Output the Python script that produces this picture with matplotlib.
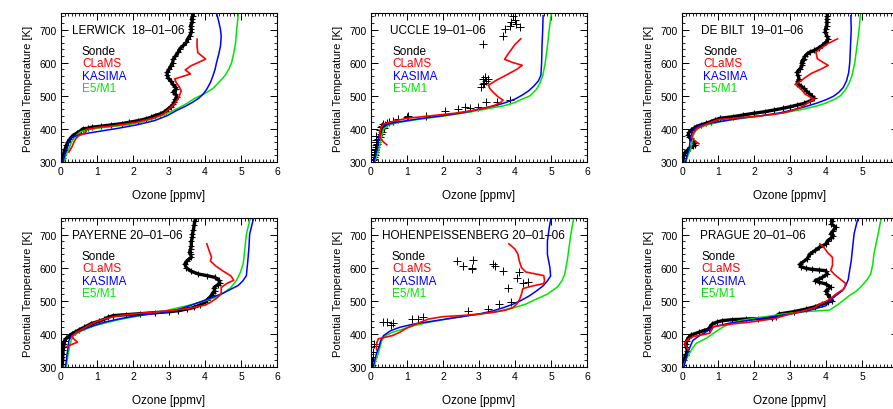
import matplotlib
matplotlib.use("Agg")
import matplotlib.pyplot as plt
from matplotlib.ticker import MultipleLocator

plt.rcParams['font.family'] = ['Liberation Sans', 'DejaVu Sans']

# ---------------- data ----------------
stations = ["LERWICK  18–01–06", "UCCLE 19–01–06", "DE BILT  19–01–06",
            "PAYERNE 20–01–06", "HOHENPEISSENBERG 20–01–06", "PRAGUE 20–01–06"]
legend_names = ["Sonde", "CLaMS", "KASIMA", "E5/M1"]
x_ticks = [0, 1, 2, 3, 4, 5, 6]
y_ticks = [300, 400, 500, 600, 700]

# LERWICK
lerwick_sonde_theta = [300, 312, 320, 335, 350, 360, 370, 380, 388, 395, 400, 402, 405, 408, 412, 416, 420, 425, 430, 435,
                       440, 445, 450, 455, 460, 467, 475, 482, 490, 497, 505, 512, 520, 527, 535, 545, 553, 562, 571, 580,
                       590, 600, 611, 620, 631, 642, 652, 661, 672, 682, 692, 702, 712, 722, 732, 742, 750]
lerwick_sonde_o3 = [0.04, 0.05, 0.06, 0.1, 0.15, 0.19, 0.25, 0.33, 0.45, 0.55, 0.6, 0.75, 0.85, 1.1, 1.4, 1.7, 1.9, 2.15, 2.35, 2.5,
                    2.6, 2.75, 2.85, 2.92, 2.97, 3.05, 3.12, 3.15, 3.18, 3.22, 3.18, 3.12, 3.2, 3.18, 3.1, 3.05, 2.98, 2.95, 2.95, 3.0,
                    3.05, 3.1, 3.12, 3.18, 3.25, 3.3, 3.4, 3.48, 3.52, 3.58, 3.62, 3.62, 3.6, 3.65, 3.63, 3.66, 3.65]
lerwick_clams_theta = [330, 345, 360, 372, 380, 386, 392, 398, 404, 410, 420, 432, 445, 460, 475, 490, 503, 515, 528, 540,
                       551, 566, 578, 590, 611, 630, 650, 671]
lerwick_clams_o3 = [0.22, 0.3, 0.36, 0.42, 0.5, 0.65, 0.7, 0.68, 1.0, 1.5, 2.1, 2.55, 2.85, 3.0, 3.15, 3.25, 3.3, 3.34, 3.28, 3.2,
                    3.16, 3.6, 3.45, 3.6, 4.02, 3.8, 3.78, 3.78]
lerwick_kasima_theta = [300, 320, 340, 360, 375, 382, 388, 395, 402, 412, 425, 440, 455, 468, 480, 492, 505, 520, 540, 560,
                        580, 600, 625, 650, 680, 700, 725, 750]
lerwick_kasima_o3 = [0.05, 0.1, 0.17, 0.22, 0.3, 0.5, 0.8, 1.2, 1.6, 2.1, 2.6, 2.95, 3.2, 3.45, 3.65, 3.82, 3.95, 4.05, 4.15, 4.22,
                     4.28, 4.32, 4.38, 4.43, 4.45, 4.43, 4.38, 4.32]
lerwick_e5_theta = [300, 320, 340, 362, 380, 392, 398, 402, 407, 412, 420, 432, 447, 462, 477, 492, 507, 522, 540, 560,
                    580, 600, 630, 660, 700, 750]
lerwick_e5_o3 = [0.08, 0.14, 0.22, 0.3, 0.42, 0.55, 0.8, 1.0, 1.4, 1.84, 2.2, 2.6, 2.95, 3.24, 3.5, 3.71, 4.0, 4.22, 4.38, 4.55,
                 4.66, 4.74, 4.8, 4.85, 4.88, 4.93]

# UCCLE
uccle_sonde_theta = [300, 305, 310, 315, 320, 325, 330, 335, 340, 345, 350, 355, 360, 365, 370, 375, 380, 385, 392, 398,
                     402, 405, 408, 412, 415, 418, 420, 425, 430,
                     435, 438, 440, 455, 460, 465, 463, 465, 480, 482, 488,
                     527, 535, 540, 545, 550, 552, 557, 656, 681, 702, 712, 717, 707, 722, 730, 740]
uccle_sonde_o3 = [0.06, 0.05, 0.08, 0.07, 0.1, 0.09, 0.12, 0.1, 0.1, 0.13, 0.14, 0.16, 0.18, 0.15, 0.2, 0.25, 0.15, 0.28, 0.3, 0.25,
                  0.35, 0.28, 0.3, 0.4, 0.32, 0.45, 0.5, 0.6, 0.75,
                  1.0, 1.03, 1.54, 2.05, 2.42, 2.6, 2.75, 2.97, 3.2, 3.5, 3.85,
                  3.06, 3.1, 3.15, 3.2, 3.25, 3.1, 3.18, 3.11, 3.67, 3.71, 3.85, 4.04, 4.13, 3.9, 4.0, 3.94]
uccle_clams_theta = [352, 360, 372, 390, 405, 415, 425, 432, 440, 447, 455, 463, 472, 480, 487, 495, 510, 522, 532, 548,
                     565, 580, 592, 600, 610, 625, 640, 655, 672]
uccle_clams_o3 = [0.44, 0.35, 0.25, 0.25, 0.28, 0.35, 0.7, 1.0, 1.7, 2.3, 2.8, 3.2, 3.45, 3.6, 3.67, 3.55, 3.4, 3.3, 3.26, 3.5,
                  3.8, 4.05, 4.2, 3.95, 3.71, 3.8, 3.9, 4.0, 4.16]
uccle_kasima_theta = [300, 320, 340, 360, 380, 400, 412, 420, 430, 440, 450, 460, 470, 480, 490, 502, 515, 530, 545, 562,
                      600, 650, 700, 742]
uccle_kasima_o3 = [0.08, 0.12, 0.18, 0.2, 0.23, 0.27, 0.4, 0.7, 1.3, 2.0, 2.6, 3.0, 3.45, 3.75, 4.0, 4.2, 4.38, 4.53, 4.65, 4.72,
                   4.74, 4.75, 4.77, 4.78]
uccle_e5_theta = [300, 320, 340, 360, 380, 400, 412, 420, 430, 440, 450, 460, 470, 480, 490, 500, 520, 540, 560, 600,
                  650, 700, 750]
uccle_e5_o3 = [0.1, 0.17, 0.22, 0.26, 0.3, 0.35, 0.5, 0.8, 1.4, 2.1, 2.7, 3.2, 3.7, 4.0, 4.2, 4.42, 4.6, 4.7, 4.77, 4.84,
               4.9, 4.95, 5.01]

# DE BILT
debilt_sonde_theta = [300, 312, 320, 327, 335, 342, 347, 352, 358, 365, 372, 377, 382, 390, 397, 402, 407, 412, 417, 422,
                      427, 432, 437, 442, 447, 452, 457, 462, 467, 472, 477, 484, 492, 500, 507, 515, 522, 530, 537, 545,
                      552, 562, 572, 582, 592, 600, 607, 612, 620, 627, 632, 637, 645, 652, 662, 672, 682, 692, 702, 712,
                      722, 732, 742, 750]
debilt_sonde_o3 = [0.03, 0.03, 0.05, 0.07, 0.15, 0.21, 0.3, 0.35, 0.33, 0.28, 0.26, 0.2, 0.17, 0.2, 0.26, 0.33, 0.4, 0.52, 0.68, 0.8,
                   0.92, 1.05, 1.43, 1.7, 1.99, 2.3, 2.55, 2.8, 3.01, 3.2, 3.39, 3.55, 3.67, 3.6, 3.53, 3.45, 3.39, 3.3, 3.2, 3.22,
                   3.25, 3.22, 3.2, 3.28, 3.34, 3.32, 3.35, 3.38, 3.42, 3.48, 3.55, 3.67, 3.8, 3.9, 4.0, 4.06, 4.02, 3.98, 3.99, 4.02,
                   4.03, 4.02, 4.04, 4.03]
debilt_clams_theta = [355, 365, 374, 385, 392, 400, 408, 420, 428, 433, 437, 442, 448, 455, 465, 475, 483, 490, 497, 505,
                      515, 525, 535, 545, 555, 568, 580, 592, 602, 612, 632, 657, 672]
debilt_clams_o3 = [0.47, 0.35, 0.26, 0.3, 0.35, 0.4, 0.55, 0.8, 1.0, 1.5, 2.0, 2.4, 2.8, 3.05, 3.3, 3.45, 3.55, 3.67, 3.55, 3.42,
                   3.35, 3.25, 3.15, 3.3, 3.42, 3.6, 3.85, 4.06, 3.9, 3.76, 3.72, 4.04, 4.32]
debilt_kasima_theta = [300, 320, 340, 360, 375, 390, 402, 410, 418, 425, 432, 440, 448, 458, 468, 478, 488, 498, 510, 525,
                       545, 570, 600, 650, 700, 742]
debilt_kasima_o3 = [0.1, 0.14, 0.2, 0.22, 0.25, 0.28, 0.35, 0.5, 0.8, 1.2, 1.6, 2.2, 2.7, 3.1, 3.45, 3.75, 4.0, 4.2, 4.35, 4.48,
                    4.57, 4.63, 4.66, 4.68, 4.7, 4.69]
debilt_e5_theta = [300, 320, 340, 360, 375, 390, 402, 412, 420, 428, 435, 442, 450, 458, 468, 478, 490, 500, 520, 540,
                   560, 600, 650, 700, 750]
debilt_e5_o3 = [0.1, 0.17, 0.24, 0.28, 0.3, 0.35, 0.45, 0.7, 1.0, 1.4, 1.9, 2.4, 2.9, 3.3, 3.7, 4.0, 4.25, 4.4, 4.55, 4.65,
                4.72, 4.8, 4.86, 4.92, 4.96]

# PAYERNE
payerne_sonde_theta = [300, 310, 320, 330, 340, 350, 360, 370, 380, 387, 393, 400, 405, 412, 420, 431, 438, 444, 450, 455,
                       458, 461, 464, 467, 470, 475, 480, 487, 495, 502, 510, 518, 525, 530, 540, 548, 555, 563, 571, 576,
                       581, 590, 600, 611, 621, 631, 640, 646, 656, 666, 680, 692, 701, 715, 730, 742, 750]
payerne_sonde_o3 = [0.03, 0.03, 0.05, 0.04, 0.06, 0.05, 0.08, 0.07, 0.1, 0.15, 0.22, 0.3, 0.38, 0.5, 0.65, 0.84, 1.05, 1.2, 1.3, 1.45,
                    1.8, 2.2, 2.6, 3.0, 3.25, 3.5, 3.7, 3.85, 3.99, 4.05, 4.13, 4.2, 4.22, 4.27, 4.25, 4.35, 4.41, 4.38, 4.27, 4.05,
                    3.81, 3.6, 3.48, 3.44, 3.5, 3.62, 3.6, 3.57, 3.6, 3.62, 3.62, 3.65, 3.65, 3.68, 3.7, 3.72, 3.75]
payerne_clams_theta = [362, 368, 375, 385, 392, 402, 412, 425, 438, 448, 455, 460, 465, 470, 475, 480, 487, 495, 510, 522,
                       530, 540, 552, 562, 575, 590, 605, 620, 632, 650, 672]
payerne_clams_o3 = [0.16, 0.3, 0.46, 0.35, 0.3, 0.4, 0.55, 0.75, 1.0, 1.3, 1.6, 2.0, 2.5, 3.0, 3.4, 3.7, 4.0, 4.15, 4.35, 4.45,
                    4.45, 4.45, 4.6, 4.8, 4.72, 4.5, 4.3, 4.15, 4.18, 4.12, 4.05]
payerne_kasima_theta = [300, 320, 340, 360, 380, 395, 405, 415, 425, 435, 445, 455, 465, 475, 488, 500, 512, 523, 535, 546,
                        560, 576, 600, 621, 660, 701, 750]
payerne_kasima_o3 = [0.12, 0.15, 0.17, 0.2, 0.22, 0.3, 0.45, 0.65, 0.9, 1.2, 1.6, 2.1, 2.9, 3.3, 3.65, 3.95, 4.25, 4.5, 4.72, 4.92,
                     5.05, 5.15, 5.17, 5.19, 5.22, 5.24, 5.35]
payerne_e5_theta = [300, 320, 340, 360, 380, 395, 405, 415, 425, 435, 445, 455, 465, 475, 485, 495, 505, 515, 526, 540,
                    561, 585, 611, 650, 701, 742, 750]
payerne_e5_o3 = [0.15, 0.17, 0.2, 0.24, 0.28, 0.35, 0.5, 0.7, 0.95, 1.3, 1.7, 2.2, 2.7, 3.1, 3.5, 3.85, 4.15, 4.4, 4.55, 4.72,
                 4.87, 4.98, 5.06, 5.1, 5.15, 5.24, 5.28]

# HOHENPEISSENBERG
hohen_sonde_theta = [305, 318, 329, 345, 364, 370, 435, 437, 432, 428, 446, 445, 452, 468, 475, 491, 496, 540, 568, 553,
                     556, 587, 591, 606, 611, 597, 600, 622, 606, 620]
hohen_sonde_o3 = [0.03, 0.04, 0.06, 0.05, 0.15, 0.07, 0.33, 0.45, 0.6, 0.55, 1.14, 1.3, 1.45, 2.7, 3.25, 3.55, 3.89, 3.81, 4.05, 4.22,
                  4.36, 4.11, 3.68, 3.44, 3.38, 2.81, 2.81, 2.82, 2.55, 2.38]
hohen_clams_theta = [355, 372, 385, 390, 395, 405, 418, 432, 445, 452, 456, 460, 465, 472, 480, 487, 495, 505, 520, 537,
                     545, 552, 562, 576, 587, 600, 620, 641, 656, 672]
hohen_clams_o3 = [0.15, 0.16, 0.2, 0.4, 0.6, 0.8, 1.0, 1.3, 1.6, 2.0, 2.6, 3.0, 3.4, 3.75, 3.95, 4.02, 4.08, 4.13, 4.18, 4.22,
                  4.5, 4.8, 4.82, 4.8, 4.3, 4.18, 4.12, 4.08, 4.0, 3.83]
hohen_kasima_theta = [300, 320, 340, 360, 380, 395, 410, 420, 430, 440, 450, 460, 470, 480, 490, 500, 515, 530, 545, 560,
                      575, 600, 640, 680, 720, 750]
hohen_kasima_o3 = [0.06, 0.1, 0.15, 0.22, 0.27, 0.35, 0.55, 0.8, 1.2, 1.8, 2.4, 3.0, 3.4, 3.7, 3.95, 4.15, 4.4, 4.6, 4.78, 4.9,
                   4.99, 4.97, 4.9, 4.9, 4.95, 5.0]
hohen_e5_theta = [300, 320, 340, 360, 380, 395, 405, 415, 425, 435, 445, 455, 462, 470, 480, 490, 502, 520, 542, 560,
                  580, 620, 660, 700, 750]
hohen_e5_o3 = [0.08, 0.13, 0.2, 0.25, 0.3, 0.4, 0.6, 0.9, 1.2, 1.6, 2.1, 2.7, 3.2, 3.6, 4.0, 4.3, 4.53, 4.9, 5.18, 5.3,
               5.38, 5.45, 5.5, 5.55, 5.63]

# PRAGUE
prague_sonde_theta = [305, 320, 335, 349, 360, 370, 380, 390, 397, 405, 410, 415, 422, 430, 436, 440, 443, 445, 446, 447,
                      452, 460, 467, 475, 482, 490, 496, 500, 510, 520, 530, 541, 551, 556, 561, 566, 571, 581, 591, 593,
                      595, 598, 603, 610, 627, 641, 652, 661, 671, 682, 690, 697, 702, 712, 722, 732, 742, 750]
prague_sonde_o3 = [0.03, 0.05, 0.1, 0.15, 0.12, 0.1, 0.13, 0.19, 0.26, 0.47, 0.6, 0.75, 0.78, 0.84, 0.98, 1.12, 1.4, 1.77, 2.1, 2.5,
                   2.6, 2.69, 3.1, 3.44, 3.7, 3.9, 4.05, 4.18, 4.1, 4.04, 4.0, 4.13, 3.99, 3.8, 3.7, 3.8, 3.9, 4.04, 3.99, 3.8,
                   3.6, 3.45, 3.3, 3.27, 3.48, 3.55, 3.7, 3.81, 3.99, 4.05, 4.15, 4.2, 4.13, 4.2, 4.27, 4.15, 4.18, 4.15]
prague_clams_theta = [352, 362, 372, 382, 392, 397, 402, 412, 422, 430, 437, 447, 460, 470, 480, 490, 498, 507, 520, 536,
                      552, 565, 578, 592, 607, 620, 631, 645, 660, 672]
prague_clams_o3 = [0.17, 0.12, 0.07, 0.15, 0.31, 0.55, 0.77, 0.82, 0.87, 1.4, 1.99, 2.6, 3.0, 3.4, 3.7, 3.81, 4.0, 4.13, 4.27, 4.5,
                   4.55, 4.4, 4.25, 4.13, 4.18, 4.18, 4.18, 4.05, 3.95, 3.83]
prague_kasima_theta = [300, 320, 340, 360, 380, 392, 402, 412, 422, 432, 440, 450, 460, 470, 485, 500, 515, 530, 546, 565,
                       581, 620, 651, 702, 742, 750]
prague_kasima_o3 = [0.05, 0.1, 0.15, 0.22, 0.3, 0.45, 0.6, 0.75, 0.9, 1.3, 1.8, 2.4, 3.0, 3.5, 4.0, 4.1, 4.27, 4.45, 4.55, 4.62,
                    4.64, 4.7, 4.73, 4.78, 4.87, 4.9]
prague_e5_theta = [302, 320, 342, 358, 372, 387, 400, 415, 430, 440, 450, 460, 467, 472, 490, 515, 530, 546, 565, 581,
                   610, 641, 692, 742, 750]
prague_e5_o3 = [0.03, 0.1, 0.21, 0.3, 0.4, 0.68, 0.85, 1.05, 1.3, 1.6, 2.2, 2.8, 3.4, 4.1, 4.35, 4.64, 4.85, 5.0, 5.15, 5.24,
                5.3, 5.33, 5.43, 5.52, 5.55]

panels = [
    (lerwick_sonde_o3, lerwick_sonde_theta, lerwick_clams_o3, lerwick_clams_theta,
     lerwick_kasima_o3, lerwick_kasima_theta, lerwick_e5_o3, lerwick_e5_theta, True),
    (uccle_sonde_o3, uccle_sonde_theta, uccle_clams_o3, uccle_clams_theta,
     uccle_kasima_o3, uccle_kasima_theta, uccle_e5_o3, uccle_e5_theta, False),
    (debilt_sonde_o3, debilt_sonde_theta, debilt_clams_o3, debilt_clams_theta,
     debilt_kasima_o3, debilt_kasima_theta, debilt_e5_o3, debilt_e5_theta, True),
    (payerne_sonde_o3, payerne_sonde_theta, payerne_clams_o3, payerne_clams_theta,
     payerne_kasima_o3, payerne_kasima_theta, payerne_e5_o3, payerne_e5_theta, True),
    (hohen_sonde_o3, hohen_sonde_theta, hohen_clams_o3, hohen_clams_theta,
     hohen_kasima_o3, hohen_kasima_theta, hohen_e5_o3, hohen_e5_theta, False),
    (prague_sonde_o3, prague_sonde_theta, prague_clams_o3, prague_clams_theta,
     prague_kasima_o3, prague_kasima_theta, prague_e5_o3, prague_e5_theta, True),
]

title_x = [0.3, 0.53, 0.54, 0.3, 0.3, 0.49]
legend_x = [0.58, 0.6, 0.59, 0.58, 0.58, 0.54]

# ---------------- layout ----------------
W, H = 893, 410
fig = plt.figure(figsize=(W / 100, H / 100), dpi=100)
lefts = [61, 371, 682]
tops = [14, 219]
aw, ah = 216, 149

col_red = '#ff0000'
col_blue = '#0000ff'
col_green = '#00e600'
colors = ['black', col_red, col_blue, col_green]

for i, p in enumerate(panels):
    r, c = divmod(i, 3)
    ax = fig.add_axes([lefts[c] / W, (H - tops[r] - ah) / H, aw / W, ah / H])
    s_x, s_y, c_x, c_y, k_x, k_y, e_x, e_y, dense = p
    ax.plot(e_x, e_y, color=col_green, lw=1.1, zorder=2)
    ax.plot(k_x, k_y, color=col_blue, lw=1.1, zorder=3)
    if dense:
        ax.plot(s_x, s_y, color='black', lw=2.4, marker='+', ms=5, mew=0.8, zorder=1)
    else:
        ax.plot(s_x, s_y, ls='none', color='black', marker='+', ms=6, mew=0.7, zorder=1)
    ax.plot(c_x, c_y, color=col_red, lw=1.2, zorder=4)

    ax.set_xlim(0, 6)
    ax.set_ylim(300, 750)
    ax.set_xticks(x_ticks)
    if c == 2:
        ax.set_xticklabels([str(t) if t < 6 else '' for t in x_ticks])
    ax.set_yticks(y_ticks)
    ax.xaxis.set_minor_locator(MultipleLocator(0.1))
    ax.yaxis.set_minor_locator(MultipleLocator(20))
    ax.tick_params(which='both', direction='in', top=True, right=True, labelsize=7.5, pad=3)
    ax.tick_params(which='major', length=5, width=0.7)
    ax.tick_params(which='minor', length=2.5, width=0.6)
    for sp in ax.spines.values():
        sp.set_linewidth(0.8)
    ax.set_xlabel('Ozone [ppmv]', fontsize=8.5, labelpad=9)
    ax.set_ylabel('Potential Temperature [K]', fontsize=8, labelpad=5)

    ax.text(title_x[i], 700, stations[i], fontsize=8.5, va='center', ha='left')
    for j, (nm, col) in enumerate(zip(legend_names, colors)):
        ax.text(legend_x[i], 636 - j * 38, nm, fontsize=8.5, color=col, va='center', ha='left')

fig.savefig('out.png', dpi=100)
